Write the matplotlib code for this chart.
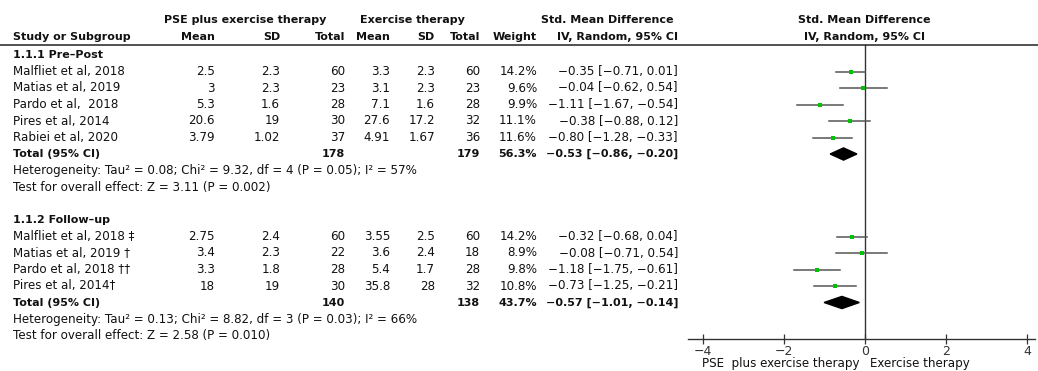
import numpy as np
import matplotlib.pyplot as plt
from matplotlib.patches import Polygon

W, H = 1038, 371

# ---- data ----
studies_pre = ["Malfliet et al, 2018", "Matias et al, 2019", "Pardo et al,  2018",
               "Pires et al, 2014", "Rabiei et al, 2020"]
pse_mean_pre = ["2.5", "3", "5.3", "20.6", "3.79"]
pse_sd_pre = ["2.3", "2.3", "1.6", "19", "1.02"]
pse_n_pre = ["60", "23", "28", "30", "37"]
ex_mean_pre = ["3.3", "3.1", "7.1", "27.6", "4.91"]
ex_sd_pre = ["2.3", "2.3", "1.6", "17.2", "1.67"]
ex_n_pre = ["60", "23", "28", "32", "36"]
weight_pre = [14.2, 9.6, 9.9, 11.1, 11.6]
smd_pre = [-0.35, -0.04, -1.11, -0.38, -0.80]
lo_pre = [-0.71, -0.62, -1.67, -0.88, -1.28]
hi_pre = [0.01, 0.54, -0.54, 0.12, -0.33]
total_pre = ("178", "179", 56.3, -0.53, -0.86, -0.20)
het_pre = "Heterogeneity: Tau² = 0.08; Chi² = 9.32, df = 4 (P = 0.05); I² = 57%"
test_pre = "Test for overall effect: Z = 3.11 (P = 0.002)"

studies_fu = ["Malfliet et al, 2018 ‡", "Matias et al, 2019 †", "Pardo et al, 2018 ††",
              "Pires et al, 2014†"]
pse_mean_fu = ["2.75", "3.4", "3.3", "18"]
pse_sd_fu = ["2.4", "2.3", "1.8", "19"]
pse_n_fu = ["60", "22", "28", "30"]
ex_mean_fu = ["3.55", "3.6", "5.4", "35.8"]
ex_sd_fu = ["2.5", "2.4", "1.7", "28"]
ex_n_fu = ["60", "18", "28", "32"]
weight_fu = [14.2, 8.9, 9.8, 10.8]
smd_fu = [-0.32, -0.08, -1.18, -0.73]
lo_fu = [-0.68, -0.71, -1.75, -1.25]
hi_fu = [0.04, 0.54, -0.61, -0.21]
total_fu = ("140", "138", 43.7, -0.57, -1.01, -0.14)
het_fu = "Heterogeneity: Tau² = 0.13; Chi² = 8.82, df = 3 (P = 0.03); I² = 66%"
test_fu = "Test for overall effect: Z = 2.58 (P = 0.010)"

xticks = [-4, -2, 0, 2, 4]

# ---- layout ----
ROW0, PITCH = 55, 16.5
def row_y(k):
    return ROW0 + PITCH * k

def fx(x): return x / W
def fy(y): return 1 - y / H

FS = 8.6      # regular text
FSB = 8.0     # bold text (DejaVu bold runs wider)
GREEN = '#00c400'
col_r = dict(pm=215, psd=280, pn=345, em=390, esd=435, en=480, w=537, ci=678)

fig = plt.figure(figsize=(W / 100, H / 100), dpi=100)
plt.rcParams['font.family'] = 'DejaVu Sans'

def txt(x, y, s, ha='left', bold=False):
    fig.text(fx(x), fy(y), s, ha=ha, va='center', fontsize=FSB if bold else FS,
             fontweight='bold' if bold else 'normal', color='#111111')

def minus(v):
    return f"{v:.2f}".replace('-', '−')

def ci_str(m, l, h):
    return f"{minus(m)} [{minus(l)}, {minus(h)}]"

# headers
txt(245, 20, "PSE plus exercise therapy", ha='center', bold=True)
txt(412, 20, "Exercise therapy", ha='center', bold=True)
txt(607, 20, "Std. Mean Difference", ha='center', bold=True)
txt(864, 20, "Std. Mean Difference", ha='center', bold=True)
txt(13, 37, "Study or Subgroup", bold=True)
for key, lab in zip(['pm', 'psd', 'pn', 'em', 'esd', 'en', 'w', 'ci'],
                    ["Mean", "SD", "Total", "Mean", "SD", "Total", "Weight", "IV, Random, 95% CI"]):
    txt(col_r[key], 37, lab, ha='right', bold=True)
txt(864, 37, "IV, Random, 95% CI", ha='center', bold=True)
fig.add_artist(plt.Line2D([0, 1], [fy(45), fy(45)], color='#222222', lw=1.1))

# forest axes: x=-4 at px 703, x=4 at px 1027; axis line runs a bit past both ends
X_L, X_R = 703, 1027
unit = (X_R - X_L) / 8
ax_l, ax_r = 688, 1035
ax_top, ax_bot = 45, 339
ax = fig.add_axes([fx(ax_l), fy(ax_bot), fx(ax_r) - fx(ax_l), (ax_bot - ax_top) / H])
ax.set_xlim(-4 - (X_L - ax_l) / unit, 4 + (ax_r - X_R) / unit)
ax.set_ylim((ax_bot - ROW0) / PITCH, (ax_top - ROW0) / PITCH)
ax.patch.set_alpha(0)
for s in ['left', 'right', 'top']:
    ax.spines[s].set_visible(False)
ax.spines['bottom'].set_color('#333333')
ax.spines['bottom'].set_linewidth(1.0)
ax.set_yticks([])
ax.set_xticks(xticks)
ax.set_xticklabels([str(t).replace('-', '−') for t in xticks], fontsize=FS + 0.4)
ax.tick_params(axis='x', direction='inout', length=7, width=0.9, pad=1, colors='#333333')
ax.axvline(0, color='#333333', lw=1.0)

def block(start, title, names, pm, psd, pn, em, esd, en, wt, smd, lo, hi, total, het, test):
    txt(13, row_y(start), title, bold=True)
    for i in range(len(names)):
        k = start + 1 + i
        y = row_y(k)
        txt(13, y, names[i])
        for key, val in zip(['pm', 'psd', 'pn', 'em', 'esd', 'en'],
                            [pm[i], psd[i], pn[i], em[i], esd[i], en[i]]):
            txt(col_r[key], y, val, ha='right')
        txt(col_r['w'], y, f"{wt[i]:.1f}%", ha='right')
        txt(col_r['ci'], y, ci_str(smd[i], lo[i], hi[i]), ha='right')
        ax.plot([lo[i], hi[i]], [k, k], color='#555555', lw=1.1, zorder=2)
        ax.plot(smd[i], k, 's', color=GREEN, ms=0.25 * wt[i], mew=0, zorder=3)
    k = start + 1 + len(names)
    y = row_y(k)
    txt(13, y, "Total (95% CI)", bold=True)
    txt(col_r['pn'], y, total[0], ha='right', bold=True)
    txt(col_r['en'], y, total[1], ha='right', bold=True)
    txt(col_r['w'], y, f"{total[2]:.1f}%", ha='right', bold=True)
    txt(col_r['ci'], y, ci_str(total[3], total[4], total[5]), ha='right', bold=True)
    dh = 0.37
    ax.add_patch(Polygon([[total[4], k], [total[3], k - dh], [total[5], k], [total[3], k + dh]],
                         closed=True, color='black', zorder=3))
    txt(13, row_y(k + 1), het)
    txt(13, row_y(k + 2), test)

block(0, "1.1.1 Pre–Post", studies_pre, pse_mean_pre, pse_sd_pre, pse_n_pre,
      ex_mean_pre, ex_sd_pre, ex_n_pre, weight_pre, smd_pre, lo_pre, hi_pre,
      total_pre, het_pre, test_pre)
block(10, "1.1.2 Follow–up", studies_fu, pse_mean_fu, pse_sd_fu, pse_n_fu,
      ex_mean_fu, ex_sd_fu, ex_n_fu, weight_fu, smd_fu, lo_fu, hi_fu,
      total_fu, het_fu, test_fu)

txt(860, 363, "PSE  plus exercise therapy", ha='right')
txt(870, 363, "Exercise therapy", ha='left')

fig.savefig('out.png', dpi=100, facecolor='white')
